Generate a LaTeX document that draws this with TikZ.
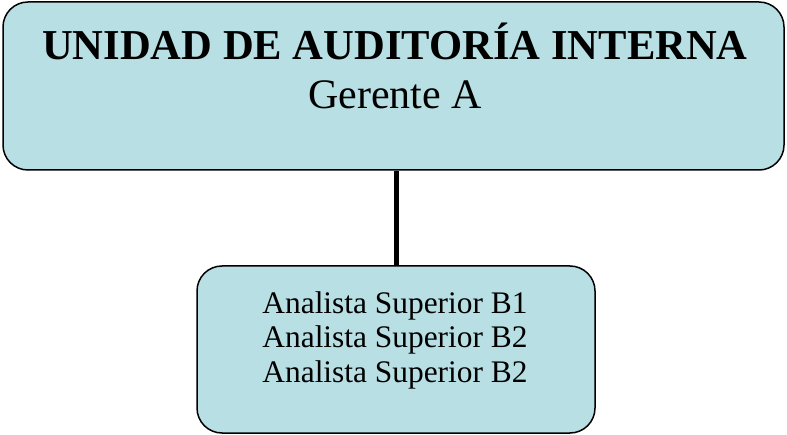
\documentclass[tikz,border=0pt]{standalone}
\usepackage{fontspec}
\setmainfont{Liberation Serif}
\definecolor{boxfill}{HTML}{B8DFE3}
\begin{document}
\begin{tikzpicture}[x=1pt,y=1pt,
  orgbox/.style={draw=black, line width=1.5pt, fill=boxfill, rounded corners=25pt, inner sep=0pt},
  txt/.style={anchor=base, inner sep=0pt, text=black}]
\useasboundingbox (0,0) rectangle (787,434);
\node[orgbox, minimum width=781pt, minimum height=168pt] (top) at (393.5,348) {};
\node[orgbox, minimum width=398pt, minimum height=167pt] (bot) at (396,84.5) {};
\draw[line width=5pt] (bot.north |- top.south) -- (bot.north);
\node[txt, font=\fontsize{42.6}{48}\selectfont\bfseries] (t1) at (395,374) {UNIDAD DE AUDITORÍA INTERNA};
\node[txt, font=\fontsize{42}{48}\selectfont] (t2) at (395,325) {Gerente A};
\node[txt, font=\fontsize{31.4}{35}\selectfont] (b1) at (395,121) {Analista Superior B1};
\node[txt, font=\fontsize{31.4}{35}\selectfont] (b2) at (395,87) {Analista Superior B2};
\node[txt, font=\fontsize{31.4}{35}\selectfont] (b3) at (395,52) {Analista Superior B2};
\end{tikzpicture}
\end{document}
